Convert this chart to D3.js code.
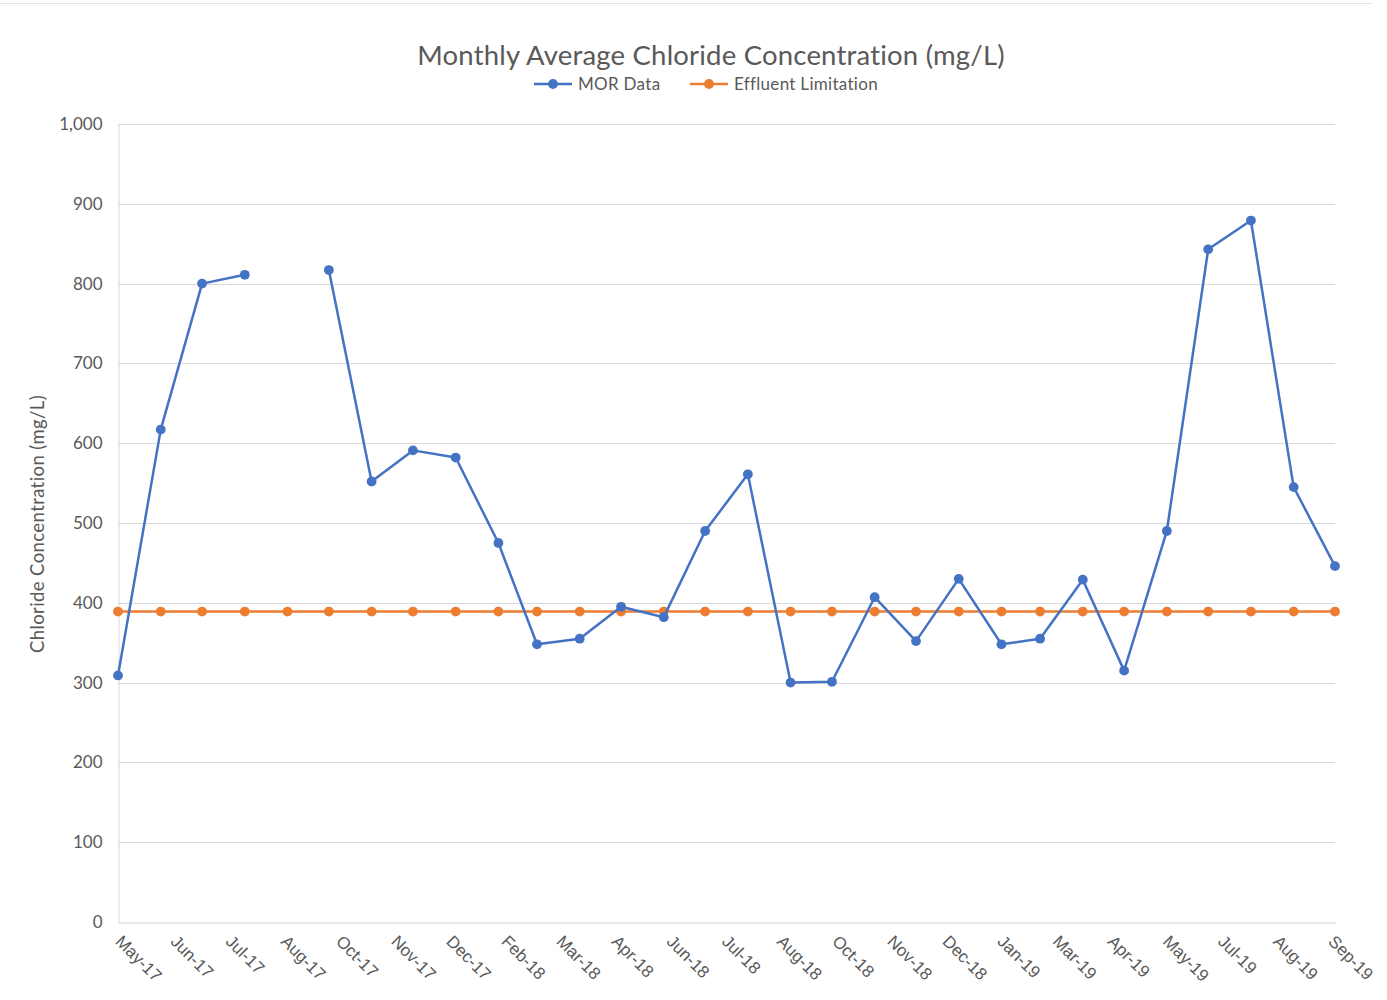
<!DOCTYPE html>
<html>
<head>
<meta charset="utf-8">
<script src="https://cdn.jsdelivr.net/npm/d3@7"></script>
<style>
  html, body { margin: 0; padding: 0; background: #fff; }
  svg { display: block; }
</style>
</head>
<body>
<svg id="chart" width="1387" height="1000"></svg>
<script>
// Monthly sampling dates (first of month), May 2017 – Oct 2019
const months = [
  "2017-05","2017-06","2017-07","2017-08","2017-09","2017-10","2017-11","2017-12",
  "2018-01","2018-02","2018-03","2018-04","2018-05","2018-06","2018-07","2018-08",
  "2018-09","2018-10","2018-11","2018-12","2019-01","2019-02","2019-03","2019-04",
  "2019-05","2019-06","2019-07","2019-08","2019-09","2019-10"
];

// Monthly operating report chloride averages (mg/L); null = no report
const morData = [
  309, 617, 800, 811, null, 817, 552, 591,
  582, 475, 348, 355, 395, 382, 490, 561,
  300, 301, 407, 352, 430, 348, 355, 429,
  315, 490, 843, 879, 545, 446
];

// Permit effluent limitation (mg/L)
const effluentLimit = [
  389, 389, 389, 389, 389, 389, 389, 389,
  389, 389, 389, 389, 389, 389, 389, 389,
  389, 389, 389, 389, 389, 389, 389, 389,
  389, 389, 389, 389, 389, 389
];

const yTicks = [0, 100, 200, 300, 400, 500, 600, 700, 800, 900, 1000];
const xTickStepDays = 40;

const seriesNames = ["MOR Data", "Effluent Limitation"];
const seriesColors = ["#4472C4", "#ED7D31"];

const svg = d3.select("#chart");
const W = 1387, H = 1000;
const margin = { left: 118, right: 52, top: 124, bottom: 78 };

const parse = d3.utcParse("%Y-%m");
const dates = months.map(parse);

const x = d3.scaleUtc()
  .domain([dates[0], dates[dates.length - 1]])
  .range([margin.left, W - margin.right]);

const y = d3.scaleLinear()
  .domain([0, 1000])
  .range([H - margin.bottom, margin.top]);

const textColor = "#595959";
const gridColor = "#d9d9d9";
const humanist = "Lato, 'Open Sans', sans-serif";

// chart frame edge along the top
svg.append("line")
  .attr("x1", 0).attr("x2", 1372)
  .attr("y1", 3.5).attr("y2", 3.5)
  .attr("stroke", "#e3e3e3").attr("stroke-width", 1);

// horizontal gridlines
svg.append("g")
  .selectAll("line")
  .data(yTicks.filter(d => d > 0))
  .join("line")
  .attr("x1", x.range()[0]).attr("x2", x.range()[1])
  .attr("y1", d => Math.round(y(d)) + 0.5)
  .attr("y2", d => Math.round(y(d)) + 0.5)
  .attr("stroke", gridColor).attr("stroke-width", 1);

// y axis
const yAxis = svg.append("g")
  .attr("transform", `translate(${Math.round(x.range()[0]) + 0.5},0)`)
  .call(d3.axisLeft(y).tickValues(yTicks).tickSize(0).tickPadding(16)
    .tickFormat(d3.format(",")));
yAxis.select(".domain").attr("stroke", gridColor).attr("stroke-width", 1);
yAxis.selectAll("text")
  .attr("fill", textColor)
  .style("font-family", humanist)
  .style("font-size", "17px");

// x axis (date axis, labels every 40 days)
const xTicks = d3.utcDay.range(dates[0], d3.utcDay.offset(dates[dates.length - 1], 1), xTickStepDays);
const xAxis = svg.append("g")
  .attr("transform", `translate(0,${Math.round(y(0)) + 0.5})`)
  .call(d3.axisBottom(x).tickValues(xTicks).tickSize(0)
    .tickFormat(d3.utcFormat("%b-%y")));
xAxis.select(".domain").attr("stroke", "#cfcfcf").attr("stroke-width", 1);
xAxis.selectAll("text")
  .attr("fill", textColor)
  .style("font-family", "'Liberation Sans', Arial, sans-serif")
  .style("font-size", "17px")
  .attr("text-anchor", "start")
  .attr("y", 0)
  .attr("dy", 0)
  .attr("transform", "translate(-4,20) rotate(45)");

// series lines and markers
const line = d3.line()
  .defined(d => d.v != null)
  .x(d => x(d.date))
  .y(d => y(d.v));

const series = [morData, effluentLimit].map((vals, i) => ({
  name: seriesNames[i],
  color: seriesColors[i],
  points: vals.map((v, j) => ({ date: dates[j], v }))
}));

// draw the limitation first so MOR data sits on top
[series[1], series[0]].forEach(s => {
  const g = svg.append("g");
  g.append("path")
    .datum(s.points)
    .attr("d", line)
    .attr("fill", "none")
    .attr("stroke", s.color)
    .attr("stroke-width", 2.5)
    .attr("stroke-linejoin", "round");
  g.selectAll("circle")
    .data(s.points.filter(d => d.v != null))
    .join("circle")
    .attr("cx", d => x(d.date))
    .attr("cy", d => y(d.v))
    .attr("r", 4.9)
    .attr("fill", s.color);
});

// title
svg.append("text")
  .attr("x", 711).attr("y", 65)
  .attr("text-anchor", "middle")
  .attr("fill", textColor)
  .style("font-family", humanist)
  .style("font-size", "27.5px")
  .style("letter-spacing", "0.2px")
  .text("Monthly Average Chloride Concentration (mg/L)");

// legend
const legend = svg.append("g").attr("transform", "translate(534,84)");
const legendItems = [
  { name: seriesNames[0], color: seriesColors[0], x: 0 },
  { name: seriesNames[1], color: seriesColors[1], x: 156 }
];
legendItems.forEach(it => {
  const g = legend.append("g").attr("transform", `translate(${it.x},0)`);
  g.append("line").attr("x1", 0).attr("x2", 38).attr("y1", 0).attr("y2", 0)
    .attr("stroke", it.color).attr("stroke-width", 2.5);
  g.append("circle").attr("cx", 19).attr("cy", 0).attr("r", 4.9).attr("fill", it.color);
  g.append("text").attr("x", 44).attr("y", 0).attr("dy", "0.35em")
    .attr("fill", textColor)
    .style("font-family", humanist)
    .style("font-size", "17px")
    .style("letter-spacing", "0.3px")
    .text(it.name);
});

// y axis title
svg.append("text")
  .attr("transform", `translate(44,${(y(0) + y(1000)) / 2 + 1}) rotate(-90)`)
  .attr("text-anchor", "middle")
  .attr("fill", textColor)
  .style("font-family", humanist)
  .style("font-size", "18.5px")
  .style("letter-spacing", "0.4px")
  .text("Chloride Concentration (mg/L)");
</script>
</body>
</html>
